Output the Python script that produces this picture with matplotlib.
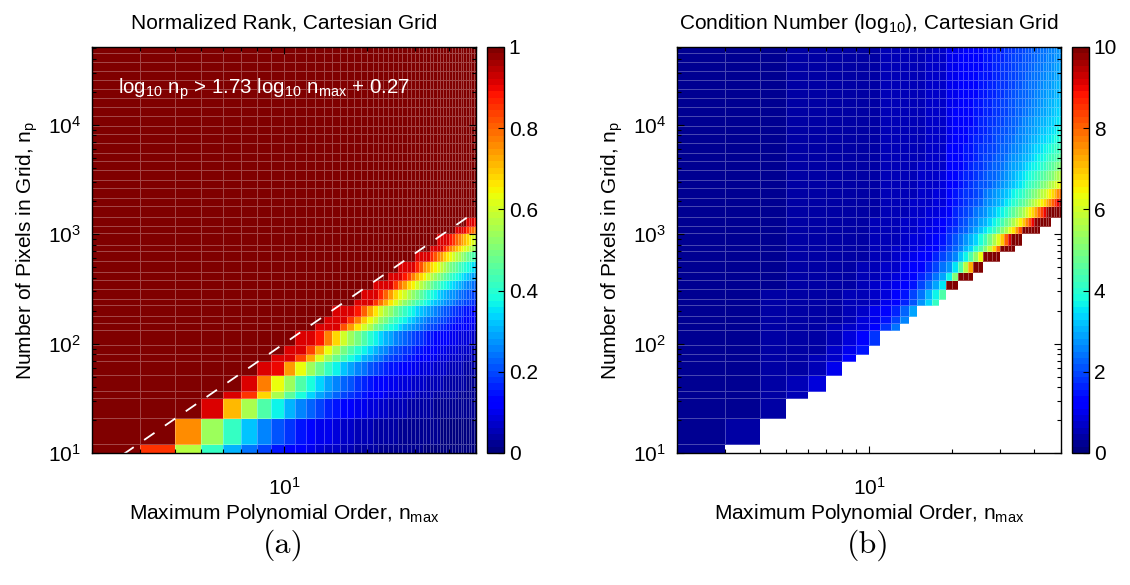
import numpy as np
import matplotlib
matplotlib.use('Agg')
import matplotlib.pyplot as plt
from matplotlib.ticker import LogLocator, NullFormatter, FixedLocator

plt.rcParams['font.family'] = ['Liberation Sans', 'DejaVu Sans']
plt.rcParams['mathtext.fontset'] = 'custom'
plt.rcParams['mathtext.rm'] = 'Liberation Sans'
plt.rcParams['mathtext.it'] = 'Liberation Sans:italic'
plt.rcParams['mathtext.default'] = 'rm'

# polynomial order vertices (pcolor drops the last one), n_max = 2..50
n_max = np.arange(2, 51)
# pixel counts inside the pupil for each sampled N x N grid (row vertices)
n_pix = np.array([9, 12, 21, 32, 37, 52, 69, 80, 97, 133, 154, 177, 227, 254,
                  314, 380, 452, 573, 707, 804, 1018, 1195, 1452, 1810, 2124,
                  2642, 3117, 3848, 4657, 5542, 6793, 8171, 9852, 12076,
                  14527, 17437, 21124, 25730, 31103, 37668, 45617, 51472])

# boundary fit printed on panel (a)
fit_slope = 1.73
fit_icept = 0.27

rank_ticks = [0, 0.2, 0.4, 0.6, 0.8, 1]
rank_labels = ['0', '0.2', '0.4', '0.6', '0.8', '1']
cond_ticks = [0, 2, 4, 6, 8, 10]

# ---- rebuild the two fields on the cell grid ----
nn = n_max[:-1][None, :].astype(float)
pp = n_pix[:-1][:, None].astype(float)
n_terms = (nn + 1) * (nn + 2) / 2
thr = 0.88 * 10**fit_icept * nn**fit_slope
full = pp >= thr

rank = np.minimum(0.95 * pp / n_terms, 0.91)
rank = np.where(full, 1.0, rank)

t = np.log(nn / 2) / np.log(25)
u = np.log10(pp) - np.log10(thr)
base = 0.3 + 1.2 * t**3
# low orders: smooth rise towards the rank boundary
c_low = base + 12.5 * t**3 * np.exp(-u / (0.2 + 0.25 * t**2))
# high orders: blows up at the boundary
s = np.clip((t - 0.699) / 0.295, 0, 1)
c_high = base + (0.52 + 1.58 * s) / (np.maximum(u, 0) + 0.02 + 0.12 * s)
cond = np.where(nn >= 19, c_high, c_low)
below = np.vstack([np.zeros((1, full.shape[1]), bool), full[:-1]])
edge = full & ~below
cond = np.where(edge & (nn >= 19), 12.0, cond)
cond = np.ma.masked_where(~full, cond)

cmap = plt.get_cmap('jet', 64).copy()
cmap.set_bad('white')

fig = plt.figure(figsize=(11.3, 5.85), dpi=100)
W, H = 1130, 585
ax_a = fig.add_axes([92 / W, 1 - 453 / H, 384 / W, 406 / H])
cax_a = fig.add_axes([487 / W, 1 - 453 / H, 17 / W, 406 / H])
ax_b = fig.add_axes([677 / W, 1 - 453 / H, 384 / W, 406 / H])
cax_b = fig.add_axes([1072 / W, 1 - 453 / H, 17 / W, 406 / H])

X, Y = np.meshgrid(n_max, n_pix)
m_a = ax_a.pcolormesh(X, Y, rank, cmap=cmap, vmin=0, vmax=1,
                      edgecolors=(1, 1, 1, 0.28), linewidth=0.5)
m_b = ax_b.pcolormesh(X, Y, cond, cmap=cmap, vmin=0, vmax=10,
                      edgecolors=(1, 1, 1, 0.28), linewidth=0.5)

# fitted boundary, dashed
xl = np.array([2.6, 47.0])
ax_a.plot(xl, 10**fit_icept * xl**fit_slope, color='white', lw=1.3,
          dashes=(7, 7))
ax_a.text(0.068, 0.885, r'log$_{10}$ n$_p$ > 1.73 log$_{10}$ n$_{max}$ + 0.27',
          transform=ax_a.transAxes, color='white', fontsize=14.8,
          va='baseline')

fs = 15
titles = ['Normalized Rank, Cartesian Grid',
          r'Condition Number (log$_{10}$), Cartesian Grid']
for ax, title in zip([ax_a, ax_b], titles):
    ax.set_xscale('log')
    ax.set_yscale('log')
    ax.set_xlim(2, 50)
    ax.set_ylim(10, 51472)
    ax.xaxis.set_major_locator(FixedLocator([10]))
    ax.xaxis.set_minor_locator(LogLocator(base=10, subs=np.arange(2, 10)))
    ax.xaxis.set_minor_formatter(NullFormatter())
    ax.yaxis.set_major_locator(LogLocator(base=10))
    ax.yaxis.set_minor_locator(LogLocator(base=10, subs=np.arange(2, 10)))
    ax.yaxis.set_minor_formatter(NullFormatter())
    ax.tick_params(which='both', direction='in', top=True, right=True,
                   labelsize=fs, width=0.8)
    ax.tick_params(which='major', length=5, pad=8)
    ax.tick_params(axis='x', which='major', pad=17)
    ax.tick_params(which='minor', length=3)
    for sp in ax.spines.values():
        sp.set_linewidth(1.0)
    ax.text(0.5, 1.045, title, transform=ax.transAxes, ha='center',
            va='baseline', fontsize=fs)
    ax.set_xlabel(r'Maximum Polynomial Order, n$_{max}$', fontsize=fs)
    ax.set_ylabel(r'Number of Pixels in Grid, n$_p$', fontsize=fs)
    ax.xaxis.set_label_coords(0.5, -0.12)
    ax.yaxis.set_label_coords(-0.135, 0.5)

cb_a = fig.colorbar(m_a, cax=cax_a, ticks=rank_ticks)
cb_a.ax.set_yticklabels(rank_labels)
cb_b = fig.colorbar(m_b, cax=cax_b, ticks=cond_ticks)
for cb in [cb_a, cb_b]:
    cb.ax.tick_params(direction='in', length=4, labelsize=fs, width=0.8)
    cb.outline.set_linewidth(1.0)

fig.text(283 / W, 1 - 545 / H, '(a)', family='cmr10', fontsize=23,
         ha='center', va='center')
fig.text(868 / W, 1 - 545 / H, '(b)', family='cmr10', fontsize=23,
         ha='center', va='center')

fig.savefig('out.png', dpi=100)
